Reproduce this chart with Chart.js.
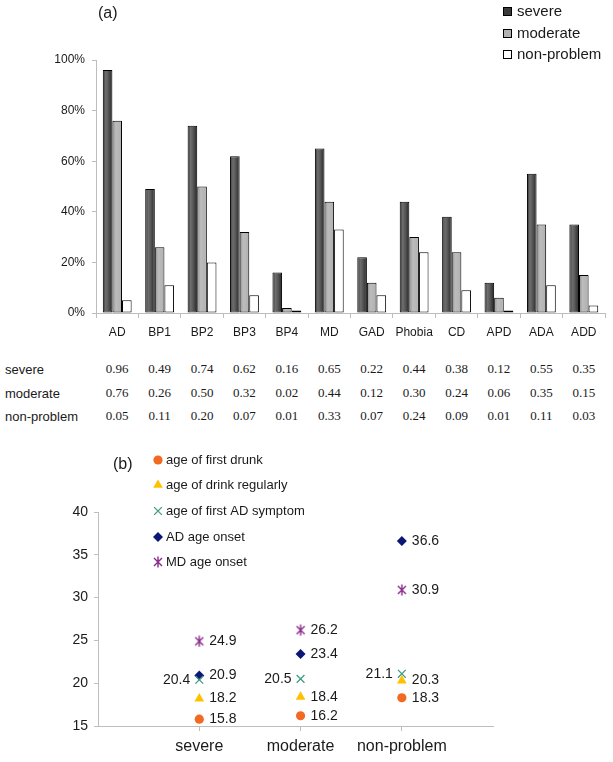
<!DOCTYPE html>
<html><head><meta charset="utf-8">
<script src="https://cdn.jsdelivr.net/npm/chart.js@4"></script>
<style>
html,body{margin:0;padding:0;background:#fff;}
body{width:613px;height:762px;position:relative;overflow:hidden;font-family:"Liberation Sans",Arial,sans-serif;}
#ca{position:absolute;left:0;top:0;}
#cb{position:absolute;left:0;top:430px;}
.rl{position:absolute;left:5px;font:13px "Liberation Sans",Arial,sans-serif;color:#1a1a1a;transform:translateY(-50%);white-space:nowrap;}
.tv{position:absolute;font:13px "Liberation Serif","Times New Roman",serif;color:#1a1a1a;transform:translate(-50%,-50%);white-space:nowrap;}
</style></head><body>
<canvas id="ca" width="613" height="345"></canvas>
<div id="table"></div>
<canvas id="cb" width="613" height="332"></canvas>
<script>
// ---- data: panel (a) ----
const disorders = ['AD','BP1','BP2','BP3','BP4','MD','GAD','Phobia','CD','APD','ADA','ADD'];
const severe     = [0.96,0.49,0.74,0.62,0.16,0.65,0.22,0.44,0.38,0.12,0.55,0.35];
const moderate   = [0.76,0.26,0.50,0.32,0.02,0.44,0.12,0.30,0.24,0.06,0.35,0.15];
const nonProblem = [0.05,0.11,0.20,0.07,0.01,0.33,0.07,0.24,0.09,0.01,0.11,0.03];
const groupNames = ['severe','moderate','non-problem'];
const percentTicks = [0,0.2,0.4,0.6,0.8,1.0];

// ---- data: panel (b) ----
const firstDrunk     = [15.8,16.2,18.3];
const drinkRegularly = [18.2,18.4,20.3];
const firstADSymptom = [20.4,20.5,21.1];
const adOnset        = [20.9,23.4,36.6];
const mdOnset        = [24.9,26.2,30.9];
const seriesNames = ['age of first drunk','age of drink regularly','age of first AD symptom','AD age onset','MD age onset'];
const ageTicks = [15,20,25,30,35,40];

const TXT = '#1a1a1a', AXIS = '#bdbdbd';
const SANS = '"Liberation Sans", Arial, sans-serif';
const CAT_PCT = 0.68;

function barFill(stops, fallback){
  return ctx => {
    if (ctx.type !== 'data') return fallback;
    const chart = ctx.chart, xs = chart.scales && chart.scales.x;
    if (!xs || !(xs.width > 0)) return fallback;
    const catW = xs.width / disorders.length;
    const gW = catW * CAT_PCT, bW = gW / 3;
    const left = xs.getPixelForValue(ctx.dataIndex) - gW / 2 + ctx.datasetIndex * bW;
    const g = chart.ctx.createLinearGradient(left, 0, left + bW, 0);
    stops.forEach(s => g.addColorStop(s[0], s[1]));
    return g;
  };
}
const swatch = ['#3a3a3a', '#b2b2b2', '#ffffff'];

const legendA = {
  id: 'legendA',
  afterDraw(chart){
    const c = chart.ctx; c.save();
    c.font = '16px ' + SANS; c.fillStyle = TXT; c.textBaseline = 'middle'; c.textAlign = 'left';
    c.fillText('(a)', 98, 14);
    const ys = [12, 34, 55];
    chart.data.datasets.forEach((ds, i) => {
      c.fillStyle = swatch[i]; c.strokeStyle = '#000'; c.lineWidth = 1;
      c.fillRect(503.5, ys[i] - 4.5, 8, 8); c.strokeRect(503.5, ys[i] - 4.5, 8, 8);
      c.font = '15px ' + SANS; c.fillStyle = TXT;
      c.fillText(ds.label, 517, ys[i]);
    });
    c.restore();
  }
};

const chartA = new Chart(document.getElementById('ca'), {
  type: 'bar',
  data: {
    labels: disorders,
    datasets: [
      { label: groupNames[0], data: severe,
        backgroundColor: barFill([[0,'#2e2e2e'],[0.3,'#6e6e6e'],[0.55,'#5a5a5a'],[1,'#262626']], '#3a3a3a') },
      { label: groupNames[1], data: moderate,
        backgroundColor: barFill([[0,'#8a8a8a'],[0.35,'#bcbcbc'],[1,'#b0b0b0']], '#b2b2b2') },
      { label: groupNames[2], data: nonProblem, backgroundColor: '#ffffff' }
    ]
  },
  options: {
    responsive: false, animation: false, devicePixelRatio: 1,
    layout: { padding: { top: 60, right: 8, left: 0, bottom: 0 } },
    datasets: { bar: { categoryPercentage: CAT_PCT, barPercentage: 1, borderColor: '#000', borderWidth: 1, borderSkipped: false } },
    plugins: { legend: { display: false }, tooltip: { enabled: false } },
    scales: {
      x: {
        grid: { display: true, drawOnChartArea: false, offset: true, tickLength: 5, color: AXIS },
        border: { color: AXIS },
        ticks: { font: { family: SANS, size: 12 }, color: TXT, padding: 7, maxRotation: 0, autoSkip: false },
        afterFit: s => { s.height = 32; }
      },
      y: {
        min: 0, max: 1,
        afterBuildTicks: s => { s.ticks = percentTicks.map(v => ({ value: v })); },
        grid: { display: true, drawOnChartArea: false, tickLength: 4, color: AXIS },
        border: { color: AXIS },
        ticks: { font: { family: SANS, size: 12 }, color: TXT, padding: 7,
                 callback: v => Math.round(v * 100) + '%' },
        afterFit: s => { s.width = 96; }
      }
    }
  },
  plugins: [legendA]
});

// ---- table under panel (a), aligned with the category scale ----
(function(){
  const tbl = document.getElementById('table');
  const rows = [severe, moderate, nonProblem];
  const rowY = [369, 393, 416];
  rows.forEach((arr, r) => {
    const l = document.createElement('div');
    l.className = 'rl'; l.style.top = rowY[r] + 'px'; l.textContent = groupNames[r];
    tbl.appendChild(l);
    arr.forEach((v, i) => {
      const d = document.createElement('div');
      d.className = 'tv';
      d.style.left = chartA.scales.x.getPixelForValue(i) + 'px';
      d.style.top = rowY[r] + 'px';
      d.textContent = v.toFixed(2);
      tbl.appendChild(d);
    });
  });
})();

// ---- panel (b) ----
const star = document.createElement('canvas');
star.width = 12; star.height = 12;
(function(){
  const c = star.getContext('2d');
  c.strokeStyle = '#8a2b8c'; c.lineWidth = 1.4;
  c.beginPath();
  c.moveTo(2, 2); c.lineTo(10, 10);
  c.moveTo(10, 2); c.lineTo(2, 10);
  c.moveTo(6, 0.5); c.lineTo(6, 11.5);
  c.stroke();
})();

const styles = [
  { pointStyle: 'circle',   radius: 4.6, bg: '#f26a21', bc: '#f26a21', bw: 0, side: 'right' },
  { pointStyle: 'triangle', radius: 5.6, bg: '#ffc000', bc: '#ffc000', bw: 0, side: 'right' },
  { pointStyle: 'crossRot', radius: 5.5, bg: '#3e9c82', bc: '#3e9c82', bw: 1.3, side: 'left' },
  { pointStyle: 'rectRot',  radius: 5,   bg: '#0a1778', bc: '#0a1778', bw: 0, side: 'right' },
  { pointStyle: star,       radius: 6,   bg: '#8a2b8c', bc: '#8a2b8c', bw: 0, side: 'right' }
];
const seriesB = [firstDrunk, drinkRegularly, firstADSymptom, adOnset, mdOnset];

function marker(c, st, x, y){
  if (Chart.helpers && Chart.helpers.drawPoint) {
    c.fillStyle = st.bg; c.strokeStyle = st.bc; c.lineWidth = st.bw;
    Chart.helpers.drawPoint(c, { pointStyle: st.pointStyle, radius: st.radius, rotation: 0, borderWidth: st.bw }, x, y);
  }
}

const legendB = {
  id: 'legendB',
  afterDraw(chart){
    const c = chart.ctx; c.save();
    c.font = '16px ' + SANS; c.fillStyle = TXT; c.textBaseline = 'middle'; c.textAlign = 'left';
    c.fillText('(b)', 113, 35);
    const ys = [30, 55, 81, 107, 132];
    chart.data.datasets.forEach((ds, i) => {
      marker(c, styles[i], 158, ys[i]);
      c.font = '13px ' + SANS; c.fillStyle = TXT; c.textAlign = 'left'; c.textBaseline = 'middle';
      c.fillText(ds.label, 166, ys[i]);
    });
    c.restore();
  }
};
const valueLabels = {
  id: 'valueLabels',
  afterDatasetsDraw(chart){
    const c = chart.ctx; c.save();
    c.font = '14px ' + SANS; c.fillStyle = TXT; c.textBaseline = 'middle';
    chart.data.datasets.forEach((ds, i) => {
      const meta = chart.getDatasetMeta(i);
      meta.data.forEach((pt, j) => {
        const v = ds.data[j].y.toFixed(1);
        if (styles[i].side === 'left') { c.textAlign = 'right'; c.fillText(v, pt.x - 9, pt.y); }
        else { c.textAlign = 'left'; c.fillText(v, pt.x + 10, pt.y); }
      });
    });
    c.restore();
  }
};

new Chart(document.getElementById('cb'), {
  type: 'scatter',
  data: {
    datasets: seriesB.map((arr, i) => ({
      label: seriesNames[i],
      data: arr.map((v, j) => ({ x: j + 1, y: v })),
      pointStyle: styles[i].pointStyle,
      pointRadius: styles[i].radius,
      backgroundColor: styles[i].bg,
      borderColor: styles[i].bc,
      borderWidth: styles[i].bw
    }))
  },
  options: {
    responsive: false, animation: false, devicePixelRatio: 1,
    layout: { padding: { top: 82, right: 120, left: 0, bottom: 0 } },
    plugins: { legend: { display: false }, tooltip: { enabled: false } },
    scales: {
      x: {
        type: 'linear', min: 0, max: 3.9,
        afterBuildTicks: s => { s.ticks = groupNames.map((n, i) => ({ value: i + 1 })); },
        grid: { display: true, drawOnChartArea: false, tickLength: 5, color: AXIS },
        border: { color: AXIS },
        ticks: { font: { family: SANS, size: 16 }, color: TXT, padding: 6, maxRotation: 0,
                 callback: v => groupNames[Math.round(v) - 1] || '' },
        afterFit: s => { s.height = 36; }
      },
      y: {
        min: 15, max: 40,
        afterBuildTicks: s => { s.ticks = ageTicks.map(v => ({ value: v })); },
        grid: { display: true, drawOnChartArea: false, tickLength: 4, color: AXIS },
        border: { color: AXIS },
        ticks: { font: { family: SANS, size: 14 }, color: TXT, padding: 6 },
        afterFit: s => { s.width = 98; }
      }
    }
  },
  plugins: [legendB, valueLabels]
});
</script>
</body></html>
